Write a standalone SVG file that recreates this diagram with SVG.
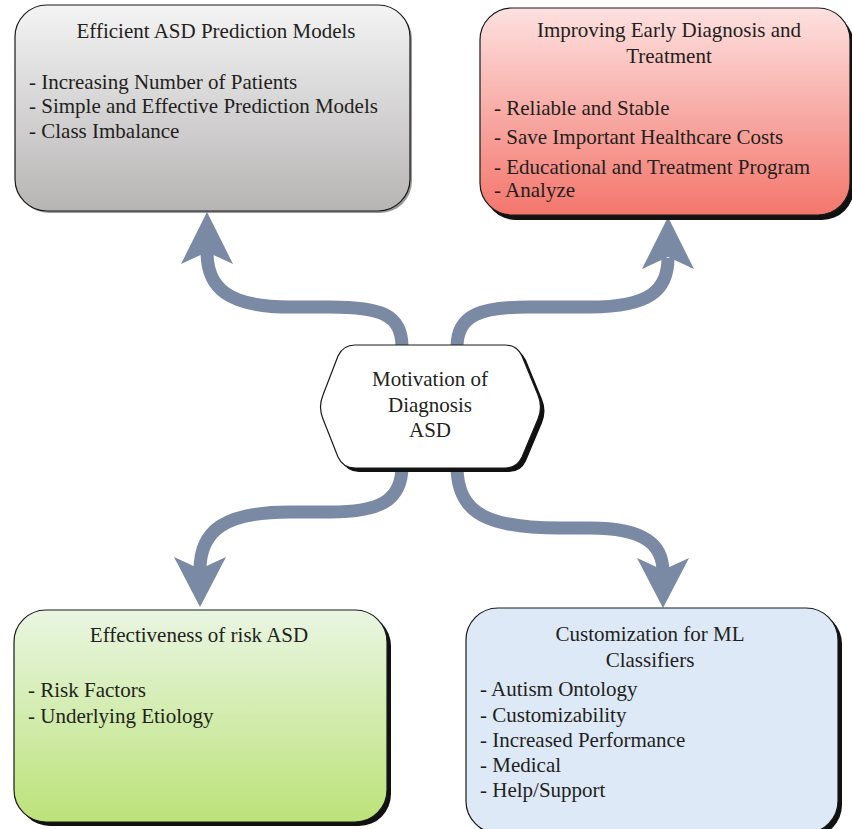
<svg xmlns="http://www.w3.org/2000/svg" width="852" height="829" viewBox="0 0 852 829">
<defs>
<linearGradient id="gGray" x1="0" y1="0" x2="0" y2="1"><stop offset="0" stop-color="#f4f4f4"/><stop offset="1" stop-color="#b7b4b4"/></linearGradient>
<linearGradient id="gRed" x1="0" y1="0" x2="0" y2="1"><stop offset="0" stop-color="#fde1e0"/><stop offset="1" stop-color="#f3766c"/></linearGradient>
<linearGradient id="gGreen" x1="0" y1="0" x2="0" y2="1"><stop offset="0" stop-color="#e9f6e2"/><stop offset="1" stop-color="#bce279"/></linearGradient>
<style>
.box{stroke:#1a1a1a;stroke-width:1.2}
.shadow{fill:#111}
.t{font-family:"Liberation Serif","Times New Roman",serif;font-size:21px;fill:#231f20}
.c{text-anchor:middle}
.shaft{fill:none;stroke:#7a8aa5;stroke-width:13}
.head{fill:#7a8aa5}
</style>
</defs>
<g id="connectors">
<path class="shaft" d="M 402 347 C 402 314, 380 307, 330 307 L 290 307 C 228 307, 207 288, 207 252"/>
<polygon class="head" points="207,212 233,264 207,252 181,264"/>
<path class="shaft" d="M 457 347 C 457 314, 482 307, 530 307 L 590 307 C 650 307, 668 290, 668 258"/>
<polygon class="head" points="668,217 694,269 668,257 642,269"/>
<path class="shaft" d="M 402 466 C 402 502, 378 512, 330 512 L 290 512 C 225 512, 200 530, 200 570"/>
<polygon class="head" points="200,607 174,557 200,569 226,557"/>
<path class="shaft" d="M 457 466 C 457 515, 490 528, 560 528 L 590 528 C 645 528, 663 545, 663 572"/>
<polygon class="head" points="663,608 637,558 663,570 689,558"/>
</g>
<g id="center">
<path class="shadow" d="M 359 349 L 509 349 Q 521 349 526 360 L 542 399 Q 547 411 542 423 L 526 461 Q 521 472 509 472 L 359 472 Q 347 472 342 461 L 327 423 Q 322 411 327 399 L 342 360 Q 347 349 359 349 Z"/>
<path class="box" fill="#ffffff" d="M 355 345 L 505 345 Q 517 345 522 356 L 538 395 Q 543 407 538 419 L 522 457 Q 517 468 505 468 L 355 468 Q 343 468 338 457 L 323 419 Q 318 407 323 395 L 338 356 Q 343 345 355 345 Z"/>
<text class="t c" x="430" y="386">Motivation of</text>
<text class="t c" x="430" y="412">Diagnosis</text>
<text class="t c" x="430" y="437">ASD</text>
</g>
<g id="box-efficient">
<rect x="17" y="7" width="395" height="206" rx="32" fill="#555" opacity="0.6"/>
<rect class="box" x="15" y="5" width="395" height="206" rx="32" fill="url(#gGray)"/>
<text class="t c" x="216" y="38">Efficient ASD Prediction Models</text>
<text class="t" x="29" y="89">- Increasing Number of Patients</text>
<text class="t" x="29" y="113">- Simple and Effective Prediction Models</text>
<text class="t" x="29" y="138">- Class Imbalance</text>
</g>
<g id="box-improving">
<rect class="shadow" x="484" y="13" width="370" height="207" rx="32"/>
<rect class="box" x="480" y="8" width="370" height="207" rx="32" fill="url(#gRed)"/>
<text class="t c" x="669" y="37">Improving Early Diagnosis and</text>
<text class="t c" x="669" y="63">Treatment</text>
<text class="t" x="494" y="115">- Reliable and Stable</text>
<text class="t" x="494" y="144">- Save Important Healthcare Costs</text>
<text class="t" x="494" y="174">- Educational and Treatment Program</text>
<text class="t" x="494" y="197">- Analyze</text>
</g>
<g id="box-effectiveness">
<rect class="shadow" x="18" y="614" width="373" height="212" rx="32"/>
<rect class="box" x="14" y="610" width="373" height="212" rx="32" fill="url(#gGreen)"/>
<text class="t c" x="199" y="642">Effectiveness of risk ASD</text>
<text class="t" x="28" y="697">- Risk Factors</text>
<text class="t" x="28" y="723">- Underlying Etiology</text>
</g>
<g id="box-customization">
<rect class="shadow" x="470" y="612" width="372" height="225" rx="32"/>
<rect class="box" x="466" y="608" width="372" height="225" rx="32" fill="#dde9f7"/>
<text class="t c" x="650" y="641">Customization for ML</text>
<text class="t c" x="650" y="667">Classifiers</text>
<text class="t" x="480" y="696">- Autism Ontology</text>
<text class="t" x="480" y="722">- Customizability</text>
<text class="t" x="480" y="747">- Increased Performance</text>
<text class="t" x="480" y="772">- Medical</text>
<text class="t" x="480" y="797">- Help/Support</text>
</g>
</svg>
